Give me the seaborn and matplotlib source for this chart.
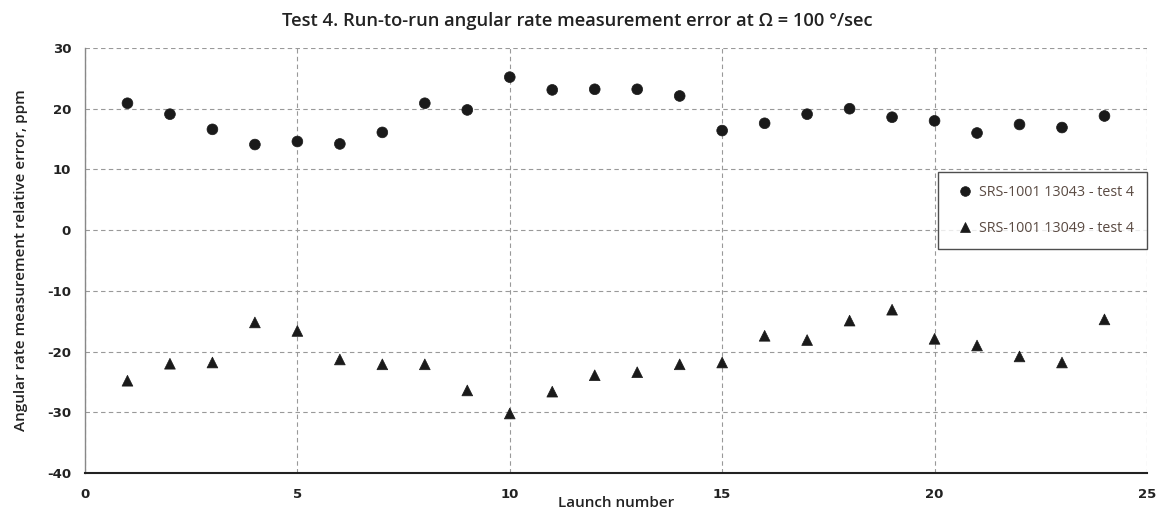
import numpy as np
import pandas as pd
import matplotlib
matplotlib.use("Agg")
import matplotlib.pyplot as plt
import seaborn as sns

# --- Daten ---
launch = list(range(1, 25))
err_13043 = [20.9, 19.1, 16.6, 14.1, 14.6, 14.2, 16.1, 20.9, 19.8, 25.2, 23.1, 23.2,
             23.2, 22.1, 16.4, 17.6, 19.1, 20.0, 18.6, 18.0, 16.0, 17.4, 16.9, 18.8]
err_13049 = [-24.8, -22.0, -21.8, -15.2, -16.6, -21.3, -22.1, -22.1, -26.4, -30.2, -26.6, -23.9,
             -23.4, -22.1, -21.8, -17.4, -18.1, -14.9, -13.1, -17.9, -19.0, -20.8, -21.8, -14.7]
series_names = ["SRS-1001 13043 - test 4", "SRS-1001 13049 - test 4"]

df = pd.DataFrame({
    "launch": launch * 2,
    "error": err_13043 + err_13049,
    "series": [series_names[0]] * len(launch) + [series_names[1]] * len(launch),
})

sns.set_theme(style="white")
plt.rcParams['font.family'] = ['Open Sans', 'DejaVu Sans']
plt.rcParams['axes.unicode_minus'] = False

fig = plt.figure(figsize=(11.61, 5.09), dpi=100)
ax = fig.add_axes([0.0732, 0.0707, 0.9147, 0.835])

sns.scatterplot(data=df, x="launch", y="error", style="series",
                markers={series_names[0]: "o", series_names[1]: "^"},
                color="#1a1a1a", s=60, edgecolor="#1a1a1a", linewidth=0.5, ax=ax, zorder=3)

ax.set_xlim(0, 25)
ax.set_ylim(-40, 30)
ax.set_xticks(range(0, 26, 5))
ax.set_yticks(range(-40, 31, 10))
ax.grid(True, linestyle=(0, (4, 3)), color="#999999", linewidth=0.8)

for s in ["top", "right"]:
    ax.spines[s].set_visible(False)
ax.spines["left"].set_color("#888888")
ax.spines["left"].set_linewidth(1.0)
ax.spines["bottom"].set_color("#222222")
ax.spines["bottom"].set_linewidth(1.5)

ax.tick_params(axis="x", direction="inout", length=6, width=0.8, color="#555555",
               labelsize=9.5, pad=8)
ax.tick_params(axis="y", direction="out", length=4, width=0.8, color="#999999",
               labelsize=9.5, pad=6)
for lab in ax.get_xticklabels() + ax.get_yticklabels():
    lab.set_fontweight("bold")
    lab.set_family(["DejaVu Sans"])
    lab.set_color("#222222")

ax.set_xlabel("Launch number", fontsize=11, fontweight="semibold", color="#222222", labelpad=-4)
ax.set_ylabel("Angular rate measurement relative error, ppm", fontsize=11,
              fontweight="semibold", color="#222222", labelpad=14)
ax.set_title("Test 4. Run-to-run angular rate measurement error at \u03a9 = 100 \u00b0/sec",
             fontsize=13.2, fontweight="semibold", color="#222222", x=0.464, y=1.0, pad=16)

leg = ax.legend(loc="upper right", bbox_to_anchor=(1.0, 0.708), borderaxespad=0,
                frameon=True, fancybox=False, fontsize=10.3, labelspacing=1.5,
                handletextpad=0.0, borderpad=0.9, markerscale=0.9, title=None)
leg.get_frame().set_edgecolor("#222222")
leg.get_frame().set_linewidth(1.0)
for t in leg.get_texts():
    t.set_color("#5a4a42")

fig.savefig("out.png", dpi=100)
